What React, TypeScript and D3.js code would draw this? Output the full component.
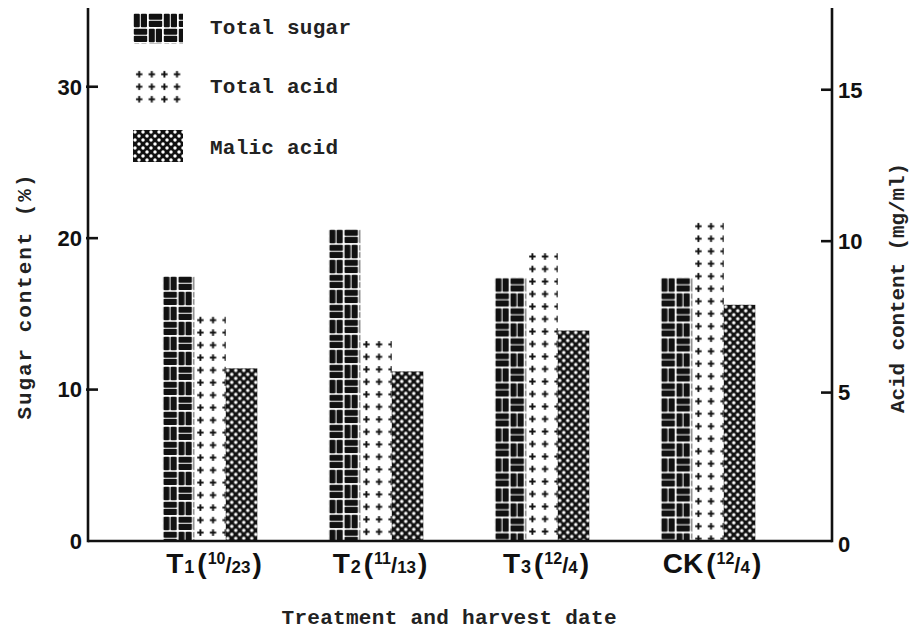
import * as d3 from 'd3';

// treatment groups and harvest dates (month / day)
const categories = ['T', 'T', 'T', 'CK'];
const subscripts = ['1', '2', '3', ''];
const harvestMonth = ['10', '11', '12', '12'];
const harvestDay = ['23', '13', '4', '4'];

// values
const totalSugar = [17.5, 20.6, 17.4, 17.4]; // %
const totalAcid = [7.5, 6.7, 9.6, 10.6]; // mg/ml
const malicAcid = [5.7, 5.6, 6.95, 7.8]; // mg/ml

const sugarTicks = [0, 10, 20, 30];
const acidTicks = [0, 5, 10, 15];

const seriesNames = ['Total sugar', 'Total acid', 'Malic acid'];
const seriesKeys = ['sugar', 'acid', 'malic'];

const W = 913;
const H = 635;
const axisLeft = 88;
const axisRight = 832;
const axisBottom = 541;
const axisTop = 8;

const monoFont = "'Liberation Mono', 'Courier New', monospace";
const sansFont = "'Liberation Sans', Arial, sans-serif";

// pattern tiles, anchored at (x, y) so each bar starts on a clean row
function Pattern({ id, kind, x, y }: { id: string; kind: string; x: number; y: number }) {
  if (kind === 'sugar') {
    return (
      <pattern id={id} patternUnits="userSpaceOnUse" x={x} y={y} width={30} height={30}>
        <rect width={30} height={30} fill="#fff" />
        <g fill="#111">
          <rect x={0.8} y={0.8} width={6} height={13.4} rx={1} />
          <rect x={7.8} y={0.8} width={6.2} height={13.4} rx={1} />
          <rect x={15.8} y={0.8} width={13.4} height={6} rx={1} />
          <rect x={15.8} y={7.8} width={13.4} height={6.2} rx={1} />
          <rect x={0.8} y={15.8} width={13.4} height={6} rx={1} />
          <rect x={0.8} y={22.8} width={13.4} height={6.2} rx={1} />
          <rect x={15.8} y={15.8} width={6} height={13.4} rx={1} />
          <rect x={22.8} y={15.8} width={6.2} height={13.4} rx={1} />
        </g>
      </pattern>
    );
  }
  if (kind === 'acid') {
    return (
      <pattern id={id} patternUnits="userSpaceOnUse" x={x} y={y} width={12.6} height={12.5}>
        <g stroke="#111" strokeWidth={1.9}>
          <line x1={3} x2={9.4} y1={6.25} y2={6.25} />
          <line x1={6.2} x2={6.2} y1={3} y2={9.5} />
        </g>
      </pattern>
    );
  }
  return (
    <pattern id={id} patternUnits="userSpaceOnUse" x={x} y={y} width={8} height={8}>
      <rect width={8} height={8} fill="#111" />
      <circle cx={2} cy={2} r={1.75} fill="#fff" />
      <circle cx={6} cy={6} r={1.75} fill="#fff" />
    </pattern>
  );
}

export default function App() {
  const ySugar = d3.scaleLinear().domain([0, 35.2]).range([axisBottom, axisTop]);
  const yAcid = d3.scaleLinear().domain([0, 17.6]).range([axisBottom, axisTop]);

  const idx = categories.map((_, i) => i);
  const x0 = d3.scaleBand<number>()
    .domain(idx)
    .range([127, 791])
    .paddingInner(0.43)
    .paddingOuter(0.215);
  const x1 = d3.scaleBand<number>()
    .domain([0, 1, 2])
    .range([0, x0.bandwidth()])
    .padding(0);

  const values = [totalSugar, totalAcid, malicAcid];
  const scales = [ySugar, yAcid, yAcid];

  const bars = idx.flatMap(i =>
    values.map((vals, s) => {
      const bx = x0(i)! + x1(s)!;
      const by = scales[s](vals[i]);
      return { i, s, x: bx, y: by, w: x1.bandwidth(), h: axisBottom - by, id: `p-${seriesKeys[s]}-${i}` };
    })
  );

  const legendTops = [13, 68, 130];
  const legendHeights = [31, 35, 32];

  return (
    <svg width={W} height={H} style={{ display: 'block', position: 'absolute', left: 0, top: 0, background: '#fff' }}>
      <defs>
        {bars.map(b => (
          <Pattern key={b.id} id={b.id} kind={seriesKeys[b.s]} x={b.x} y={b.y} />
        ))}
        {seriesKeys.map((k, s) => (
          <Pattern key={k} id={`leg-${k}`} kind={k} x={133} y={legendTops[s]} />
        ))}
      </defs>

      {/* bars */}
      {bars.map(b => (
        <rect key={b.id} x={b.x} y={b.y} width={b.w} height={b.h} fill={`url(#${b.id})`} />
      ))}

      {/* axes */}
      <g stroke="#111" strokeWidth={2.6} fill="none">
        <line x1={axisLeft} x2={axisLeft} y1={axisTop} y2={axisBottom + 1.3} />
        <line x1={axisRight} x2={axisRight} y1={axisTop} y2={axisBottom + 1.3} />
        <line x1={axisLeft} x2={axisRight} y1={axisBottom} y2={axisBottom} />
        {sugarTicks.filter(t => t > 0).map(t => (
          <line key={'l' + t} x1={axisLeft - 2} x2={axisLeft + 10} y1={ySugar(t)} y2={ySugar(t)} />
        ))}
        {acidTicks.filter(t => t > 0).map(t => (
          <line key={'r' + t} x1={axisRight - 11} x2={axisRight} y1={yAcid(t) + 3} y2={yAcid(t) + 3} />
        ))}
      </g>

      <g fontFamily={sansFont} fontWeight="bold" fontSize={22} fill="#111">
        {sugarTicks.map(t => (
          <text key={t} x={82} y={ySugar(t)} dy="0.36em" textAnchor="end">{t}</text>
        ))}
        {acidTicks.map(t => (
          <text key={t} x={838} y={yAcid(t) + 3} dy="0.36em" textAnchor="start">{t}</text>
        ))}
      </g>

      {/* category labels */}
      {idx.map(i => (
        <text
          key={i}
          x={x0(i)! + x0.bandwidth() / 2 + 4}
          y={573}
          textAnchor="middle"
          fontFamily={sansFont}
          fontWeight="bold"
          fontSize={28}
          fill="#111"
        >
          <tspan>{categories[i]}</tspan>
          {subscripts[i] && <tspan fontSize={18} dx={1}>{subscripts[i]}</tspan>}
          <tspan dx={3}>(</tspan>
          <tspan fontSize={16} dy={-9} dx={1}>{harvestMonth[i]}</tspan>
          <tspan fontSize={22} dy={9}>/</tspan>
          <tspan fontSize={17}>{harvestDay[i]}</tspan>
          <tspan dx={2}>)</tspan>
        </text>
      ))}

      {/* axis titles */}
      <g fontFamily={monoFont} fontWeight="bold" fontSize={21} fill="#222">
        <text
          transform="translate(31,297) rotate(-90)"
          textAnchor="middle"
          textLength={245}
          lengthAdjust="spacing"
        >Sugar content (%)</text>
        <text
          transform="translate(904,288) rotate(-90)"
          textAnchor="middle"
          textLength={250}
          lengthAdjust="spacing"
        >Acid content (mg/ml)</text>
        <text x={449} y={624} textAnchor="middle" textLength={335} lengthAdjust="spacing">
          Treatment and harvest date
        </text>
      </g>

      {/* legend */}
      {seriesNames.map((name, s) => (
        <g key={name}>
          <rect
            x={133}
            y={legendTops[s]}
            width={50}
            height={legendHeights[s]}
            fill={`url(#leg-${seriesKeys[s]})`}
          />
          <text
            x={210}
            y={[34, 93, 154][s]}
            fontFamily={monoFont}
            fontWeight="bold"
            fontSize={21}
            fill="#222"
            textLength={name.length * 13 - 2}
            lengthAdjust="spacing"
          >{name}</text>
        </g>
      ))}
    </svg>
  );
}
